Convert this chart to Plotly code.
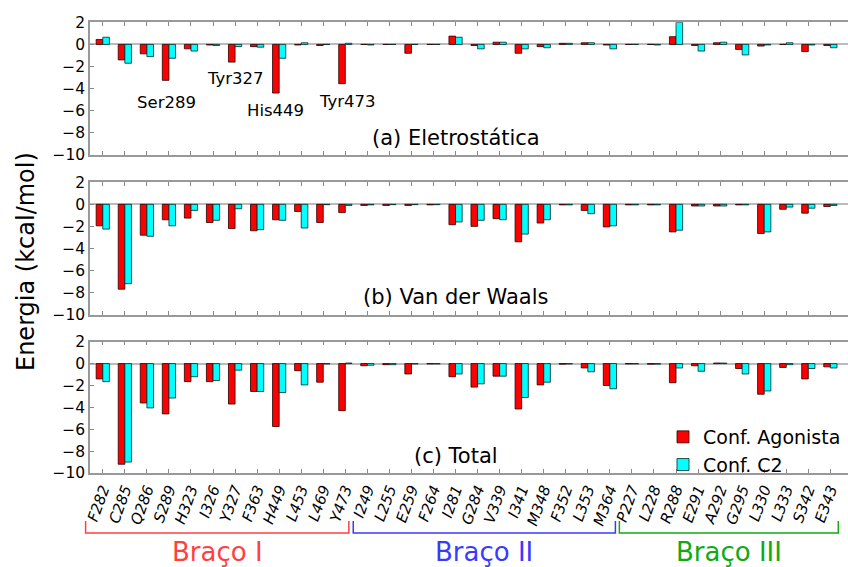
import plotly.graph_objects as go
from plotly.subplots import make_subplots

residues = ["F282", "C285", "Q286", "S289", "H323", "I326", "Y327", "F363", "H449", "L453", "L469", "Y473",
            "I249", "L255", "E259", "F264", "I281", "G284", "V339", "I341", "M348", "F352", "L353", "M364",
            "P227", "L228", "R288", "E291", "A292", "G295", "L330", "L333", "S342", "E343"]

elec_ag = [0.45, -1.4, -0.85, -3.25, -0.4, -0.05, -1.6, -0.2, -4.4, -0.05, -0.1, -3.55,
           0.0, 0.0, -0.8, 0.0, 0.75, -0.1, 0.2, -0.8, -0.2, 0.1, 0.15, -0.05,
           0.0, 0.0, 0.7, -0.1, 0.15, -0.45, -0.15, 0.0, -0.65, -0.1]
elec_c2 = [0.65, -1.7, -1.1, -1.25, -0.6, -0.1, -0.2, -0.25, -1.25, 0.15, 0.0, 0.1,
           -0.05, 0.0, 0.0, 0.0, 0.65, -0.4, 0.2, -0.4, -0.3, 0.1, 0.15, -0.4,
           0.0, -0.05, 2.0, -0.6, 0.2, -0.95, -0.05, 0.15, -0.05, -0.3]

vdw_ag = [-1.95, -7.7, -2.8, -1.4, -1.25, -1.65, -2.2, -2.4, -1.4, -0.65, -1.65, -0.75,
          -0.1, -0.1, -0.1, -0.05, -1.85, -2.0, -1.3, -3.4, -1.7, -0.05, -0.55, -2.05,
          -0.05, -0.05, -2.5, -0.15, -0.15, -0.05, -2.65, -0.45, -0.8, -0.2]
vdw_c2 = [-2.25, -7.2, -2.9, -1.95, -0.55, -1.45, -0.4, -2.3, -1.45, -2.15, -0.03, -0.1,
          -0.05, -0.03, -0.03, -0.03, -1.6, -1.45, -1.4, -2.7, -1.4, -0.05, -0.85, -1.95,
          -0.05, -0.05, -2.35, -0.15, -0.15, -0.05, -2.5, -0.25, -0.35, -0.1]

tot_ag = [-1.4, -9.2, -3.6, -4.6, -1.65, -1.65, -3.7, -2.55, -5.75, -0.65, -1.7, -4.3,
          -0.2, -0.1, -0.95, -0.03, -1.2, -2.15, -1.15, -4.15, -1.95, -0.05, -0.4, -2.0,
          -0.03, -0.05, -1.75, -0.2, 0.05, -0.45, -2.8, -0.35, -1.4, -0.3]
tot_c2 = [-1.65, -9.0, -4.05, -3.15, -1.2, -1.55, -0.6, -2.55, -2.65, -1.95, -0.03, 0.05,
          -0.15, -0.1, -0.03, -0.03, -0.95, -1.85, -1.15, -3.1, -1.7, -0.03, -0.75, -2.3,
          -0.03, -0.05, -0.4, -0.7, 0.05, -0.95, -2.5, -0.1, -0.45, -0.4]

panel_titles = ["(a) Eletrostática", "(b) Van der Waals", "(c) Total"]
highlights = [("Ser289", 2.87, -5.25), ("Tyr327", 6.0, -3.1), ("His449", 7.85, -5.95), ("Tyr473", 11.1, -5.2)]
# arm name, bracket start / end in residue-index units, colour
arms = [("Braço I", -0.78, 11.16, "#ff4040"), ("Braço II", 11.36, 23.25, "#3a3aff"),
        ("Braço III", 23.43, 33.36, "#11aa11")]
yticks = [2, 0, -2, -4, -6, -8, -10]

FONT = "DejaVu Sans"
W, H = 848, 567
L, R, T, B = 90, 0, 22, 94
ph = H - T - B
XR = [-0.58, 33.8]


def py(p):  # pixel y -> paper y
    return (H - B - p) / ph


def px(p):
    return (p - L) / (W - L - R)


def ix(v):  # residue index -> paper x
    return (v - XR[0]) / (XR[1] - XR[0])


def clamp(v):
    return min(1.0, max(0.0, v))


fig = make_subplots(rows=3, cols=1, shared_xaxes=True)
x = list(range(len(residues)))
series = [(elec_ag, elec_c2), (vdw_ag, vdw_c2), (tot_ag, tot_c2)]
for i, (ag, c2) in enumerate(series):
    fig.add_trace(go.Bar(x=x, y=ag, name="Conf. Agonista", marker_color="#ff0000",
                         marker_line=dict(color="rgba(40,0,0,0.8)", width=1),
                         showlegend=(i == 2), legendgroup="ag"), row=i + 1, col=1)
    fig.add_trace(go.Bar(x=x, y=c2, name="Conf. C2", marker_color="#00ffff",
                         marker_line=dict(color="rgba(0,40,40,0.8)", width=1),
                         showlegend=(i == 2), legendgroup="c2"), row=i + 1, col=1)

domains = [(py(155), py(22.3)), (py(314.5), py(182.3)), (py(473), py(341.7))]
for i in range(3):
    n = "" if i == 0 else str(i + 1)
    fig.layout["yaxis" + n].update(
        domain=[clamp(domains[i][0]), clamp(domains[i][1])], range=[-10, 2], tickvals=yticks,
        ticks="inside", ticklen=4, tickcolor="#888", showline=True, linecolor="#999", linewidth=1.5,
        zeroline=True, zerolinecolor="#bbb", zerolinewidth=1.5, showgrid=False,
        tickfont=dict(family=FONT, size=15.5, color="black"))
    fig.layout["xaxis" + n].update(
        range=XR, tickvals=x, ticktext=residues, ticks="inside", ticklen=4,
        tickcolor="#888", showline=True, linecolor="#999", linewidth=1.5, mirror="ticks",
        showgrid=False, showticklabels=(i == 2), tickangle=-70,
        tickfont=dict(family=FONT, size=15, color="black", style="italic"))
    fig.add_annotation(text=panel_titles[i], x=16.0, y=-8.45, xref="x" + n, yref="y" + n,
                       showarrow=False, font=dict(family=FONT, size=21, color="black"))

for name, xx, yy in highlights:
    fig.add_annotation(text=name, x=xx, y=yy, xref="x", yref="y", showarrow=False,
                       font=dict(family=FONT, size=16.5, color="black"))

# brackets for the arms
for name, a0, a1, col in arms:
    x0, x1 = ix(a0), ix(a1)
    y_top, y_bot = py(521), py(533)
    fig.add_shape(type="path", xref="paper", yref="paper",
                  path=f"M {x0},{y_top} L {x0},{y_bot} L {x1},{y_bot} L {x1},{y_top}",
                  line=dict(color=col, width=1.5))
    fig.add_annotation(text=name, x=(x0 + x1) / 2, y=py(552), xref="paper", yref="paper",
                       xanchor="center", yanchor="middle",
                       showarrow=False, font=dict(family=FONT, size=26, color=col))

fig.add_annotation(text="Energia (kcal/mol)", x=px(26), y=py(262), xref="paper", yref="paper",
                   xanchor="center", yanchor="middle",
                   textangle=-90, showarrow=False, font=dict(family=FONT, size=24, color="black"))

fig.update_layout(
    width=W, height=H, margin=dict(l=L, r=R, t=T, b=B),
    paper_bgcolor="white", plot_bgcolor="white",
    barmode="group", bargap=0.4, bargroupgap=0,
    font=dict(family=FONT),
    legend=dict(x=px(663), y=py(418), xanchor="left", yanchor="top",
                bgcolor="rgba(0,0,0,0)", font=dict(family=FONT, size=19, color="black"),
                tracegroupgap=0),
)

fig.write_html("out.html", config={"displayModeBar": False},
               post_script="document.body.style.margin='0';")
